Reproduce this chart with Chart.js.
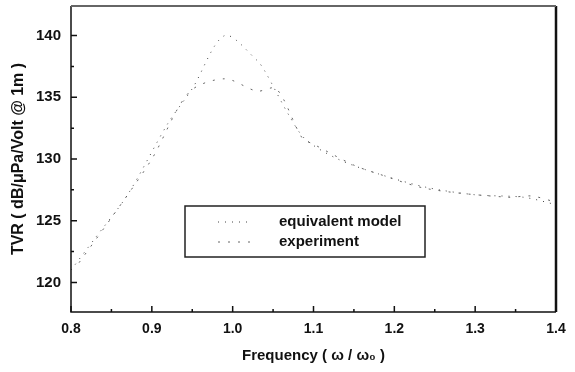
<!DOCTYPE html>
<html>
<head>
<meta charset="utf-8">
<script src="https://cdn.jsdelivr.net/npm/chart.js@4"></script>
<style>
  html, body { margin: 0; padding: 0; background: #fff; }
  #wrap { width: 575px; height: 372px; }
</style>
</head>
<body>
<div id="wrap"><canvas id="chart" width="575" height="372"></canvas></div>
<script>
// values
const modelFreq = [0.80, 0.83, 0.87, 0.92, 0.95, 0.99, 1.03, 1.04, 1.07, 1.09, 1.13, 1.18, 1.24, 1.30, 1.36, 1.40];
const modelTVR  = [121.0, 123.6, 127.1, 132.9, 135.7, 140.0, 138.0, 137.1, 133.5, 131.6, 130.0, 128.8, 127.7, 127.1, 126.9, 126.3];
const expFreq = [0.81, 0.855, 0.90, 0.946, 0.99, 1.03, 1.054, 1.086, 1.10, 1.15, 1.18, 1.24, 1.34, 1.37, 1.40];
const expTVR  = [121.6, 125.7, 130.0, 135.4, 136.5, 135.5, 135.7, 131.7, 131.2, 129.5, 128.8, 127.6, 126.9, 127.0, 126.5];
const seriesNames = ['equivalent model', 'experiment'];
const xTicks = [0.8, 0.9, 1.0, 1.1, 1.2, 1.3, 1.4];
const yTicks = [120, 125, 130, 135, 140];

const FONT = '"Liberation Sans", Arial, sans-serif';

function toPoints(xs, ys) {
  return xs.map((x, i) => ({ x, y: ys[i] }));
}

// frame, inward ticks and the boxed legend
const framePlugin = {
  id: 'frame',
  afterDraw(chart) {
    const { ctx, chartArea: a, scales } = chart;
    const xs = scales.x, ys = scales.y;
    ctx.save();
    ctx.strokeStyle = '#111';
    ctx.lineWidth = 1.5;
    // ticks
    ctx.beginPath();
    xTicks.forEach(v => {
      const px = xs.getPixelForValue(v);
      ctx.moveTo(px, a.bottom); ctx.lineTo(px, a.bottom - 6);
    });
    for (let v = 0.85; v < 1.4; v += 0.1) {
      const px = xs.getPixelForValue(v);
      ctx.moveTo(px, a.bottom); ctx.lineTo(px, a.bottom - 3);
    }
    yTicks.forEach(v => {
      const py = ys.getPixelForValue(v);
      ctx.moveTo(a.left, py); ctx.lineTo(a.left + 6, py);
    });
    for (let v = 122.5; v < 142; v += 5) {
      const py = ys.getPixelForValue(v);
      ctx.moveTo(a.left, py); ctx.lineTo(a.left + 3, py);
    }
    ctx.stroke();
    // left + bottom
    ctx.beginPath();
    ctx.moveTo(a.left, a.top); ctx.lineTo(a.left, a.bottom); ctx.lineTo(a.right, a.bottom);
    ctx.stroke();
    // right
    ctx.lineWidth = 2.5;
    ctx.beginPath();
    ctx.moveTo(a.right, a.top); ctx.lineTo(a.right, a.bottom);
    ctx.stroke();
    // top (grey in the scan)
    ctx.strokeStyle = '#666';
    ctx.lineWidth = 2;
    ctx.beginPath();
    ctx.moveTo(a.left, a.top); ctx.lineTo(a.right, a.top);
    ctx.stroke();

    // legend box
    const bx = 185, by = 206, bw = 240, bh = 51;
    ctx.strokeStyle = '#222';
    ctx.lineWidth = 1.5;
    ctx.strokeRect(bx, by, bw, bh);
    ctx.font = 'bold 15px ' + FONT;
    ctx.textBaseline = 'middle';
    ctx.fillStyle = '#111';
    chart.data.datasets.forEach((ds, i) => {
      const ly = by + 16 + i * 20;
      ctx.strokeStyle = ds.borderColor;
      ctx.lineWidth = 1;
      ctx.setLineDash(ds.borderDash);
      ctx.beginPath();
      ctx.moveTo(bx + 33, ly); ctx.lineTo(bx + 66, ly);
      ctx.stroke();
      ctx.setLineDash([]);
      ctx.fillText(ds.label, bx + 94, ly);
    });
    ctx.restore();
  }
};

new Chart(document.getElementById('chart'), {
  type: 'scatter',
  data: {
    datasets: [
      {
        label: seriesNames[0],
        data: toPoints(modelFreq, modelTVR),
        showLine: true,
        borderColor: '#444',
        borderWidth: 1,
        borderDash: [1, 6],
        pointRadius: 0,
        tension: 0.3
      },
      {
        label: seriesNames[1],
        data: toPoints(expFreq, expTVR),
        showLine: true,
        borderColor: '#666',
        borderWidth: 1,
        borderDash: [2, 8],
        pointRadius: 0,
        tension: 0.3
      }
    ]
  },
  options: {
    responsive: false,
    animation: false,
    layout: { padding: { top: 6, right: 19, left: 0, bottom: 0 } },
    plugins: { legend: { display: false }, tooltip: { enabled: false } },
    scales: {
      x: {
        type: 'linear',
        min: 0.8, max: 1.4,
        afterBuildTicks: s => { s.ticks = xTicks.map(v => ({ value: v })); },
        afterFit: s => { s.height = 60; s.paddingLeft = 0; s.paddingRight = 0; },
        grid: { display: false, drawTicks: false },
        border: { display: false },
        ticks: {
          padding: 9,
          color: '#111',
          font: { family: FONT, size: 14, weight: 'bold' },
          callback: v => v.toFixed(1)
        },
        title: {
          display: true,
          text: 'Frequency ( \u03c9 / \u03c9\u2080 )',
          color: '#111',
          font: { family: FONT, size: 15, weight: 'bold' },
          padding: { top: 0, bottom: 7 }
        }
      },
      y: {
        min: 117.6, max: 142.4,
        afterBuildTicks: s => { s.ticks = yTicks.map(v => ({ value: v })); },
        afterFit: s => { s.width = 71; s.paddingTop = 0; s.paddingBottom = 0; },
        grid: { display: false, drawTicks: false },
        border: { display: false },
        ticks: {
          padding: 10,
          color: '#111',
          font: { family: FONT, size: 15, weight: 'bold' }
        },
        title: {
          display: true,
          text: 'TVR ( dB/\u03bcPa/Volt @ 1m )',
          color: '#111',
          font: { family: FONT, size: 16, weight: 'bold' },
          padding: { top: 9, bottom: 0 }
        }
      }
    }
  },
  plugins: [framePlugin]
});
</script>
</body>
</html>
